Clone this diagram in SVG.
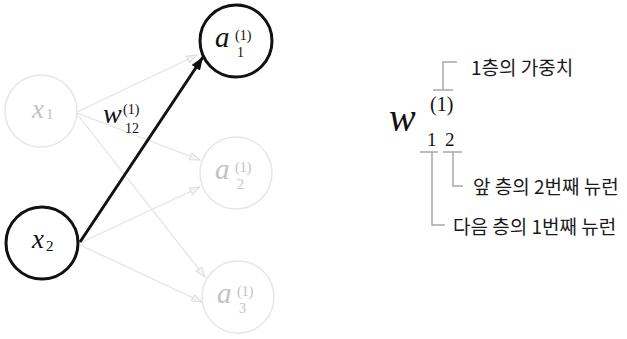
<svg xmlns="http://www.w3.org/2000/svg" width="627" height="339" viewBox="0 0 627 339" font-family="Liberation Serif, Times New Roman, serif">
<defs>
<style>
.bold{fill:#fff;stroke:#111;stroke-width:3}
.light{fill:#fff;stroke:#e6e6e6;stroke-width:1.5}
.edge{stroke:#e2e2e2;stroke-width:1.2;fill:none}
.edgeb{stroke:#111;stroke-width:3;fill:none}
.m{fill:#111}
.ml{fill:#c2c2c2}
.it{font-style:italic}
.br{stroke:#a8a8a8;stroke-width:1.5;fill:none}
.k{font-size:19px;fill:#1a1a1a}
</style>
<marker id="ah" markerWidth="12" markerHeight="10" refX="11" refY="4.5" orient="auto" markerUnits="userSpaceOnUse">
<path d="M1,1 L11,4.5 L1,8 z" fill="#f4f4f4" stroke="#dcdcdc" stroke-width="1"/>
</marker>
<marker id="ahb" markerWidth="14" markerHeight="10" refX="13" refY="5" orient="auto" markerUnits="userSpaceOnUse">
<path d="M0,0 L13,5 L0,10 z" fill="#111"/>
</marker>
</defs>
<rect width="627" height="339" fill="#fff"/>
<g id="connectors">
<line class="edge" x1="77" y1="112" x2="197" y2="55" marker-end="url(#ah)"/>
<line class="edge" x1="77" y1="113" x2="200" y2="160" marker-end="url(#ah)"/>
<line class="edge" x1="77" y1="114" x2="205" y2="277" marker-end="url(#ah)"/>
<line class="edge" x1="80" y1="243" x2="200" y2="187" marker-end="url(#ah)"/>
<line class="edge" x1="80" y1="245" x2="202" y2="302" marker-end="url(#ah)"/>
<line class="edgeb" x1="80" y1="242" x2="203" y2="57" marker-end="url(#ahb)"/>
<g id="w12-label">
<text class="m it" x="103" y="123" font-size="28">w</text>
<text class="m" x="123" y="114" font-size="14">(1)</text>
<text class="m" x="125" y="133" font-size="14">12</text>
</g>
</g>
<g id="x1">
<circle class="light" cx="41" cy="111" r="36"/>
<text class="ml it" x="32" y="118" font-size="27">x</text>
<text class="ml" x="46" y="119" font-size="15">1</text>
</g>
<g id="x2">
<circle class="bold" cx="42" cy="243" r="36"/>
<text class="m it" x="32" y="248" font-size="27">x</text>
<text class="m" x="46" y="251" font-size="15">2</text>
</g>
<g id="a1">
<circle class="bold" cx="236" cy="41" r="36"/>
<text class="m it" x="215" y="47" font-size="29">a</text>
<text class="m" x="235" y="40" font-size="14">(1)</text>
<text class="m" x="237" y="57" font-size="14">1</text>
</g>
<g id="a2">
<circle class="light" cx="236" cy="173" r="36"/>
<text class="ml it" x="215" y="179" font-size="29">a</text>
<text class="ml" x="235" y="172" font-size="14">(1)</text>
<text class="ml" x="237" y="189" font-size="14">2</text>
</g>
<g id="a3">
<circle class="light" cx="238" cy="297" r="36"/>
<text class="ml it" x="217" y="303" font-size="29">a</text>
<text class="ml" x="237" y="296" font-size="14">(1)</text>
<text class="ml" x="239" y="313" font-size="14">3</text>
</g>
<g id="legend">
<text class="m it" x="389" y="131" font-size="40">w</text>
<text class="m" x="430" y="111" font-size="20">(1)</text>
<text class="m" x="427" y="146" font-size="19">1</text>
<text class="m" x="445" y="146" font-size="19">2</text>
<path class="br" d="M433,90 H453 M443,90 V62 H457"/>
<path class="br" d="M420,152 H438 M432,152 V225 H445"/>
<path class="br" d="M443,152 H462 M453,152 V186 H463"/>
<g font-family="Noto Sans CJK KR, sans-serif">
<text class="k" x="471" y="75">1층의 가중치</text>
<text class="k" x="473" y="194">앞 층의 2번째 뉴런</text>
<text class="k" x="453" y="234">다음 층의 1번째 뉴런</text>
</g>
</g>
</svg>
